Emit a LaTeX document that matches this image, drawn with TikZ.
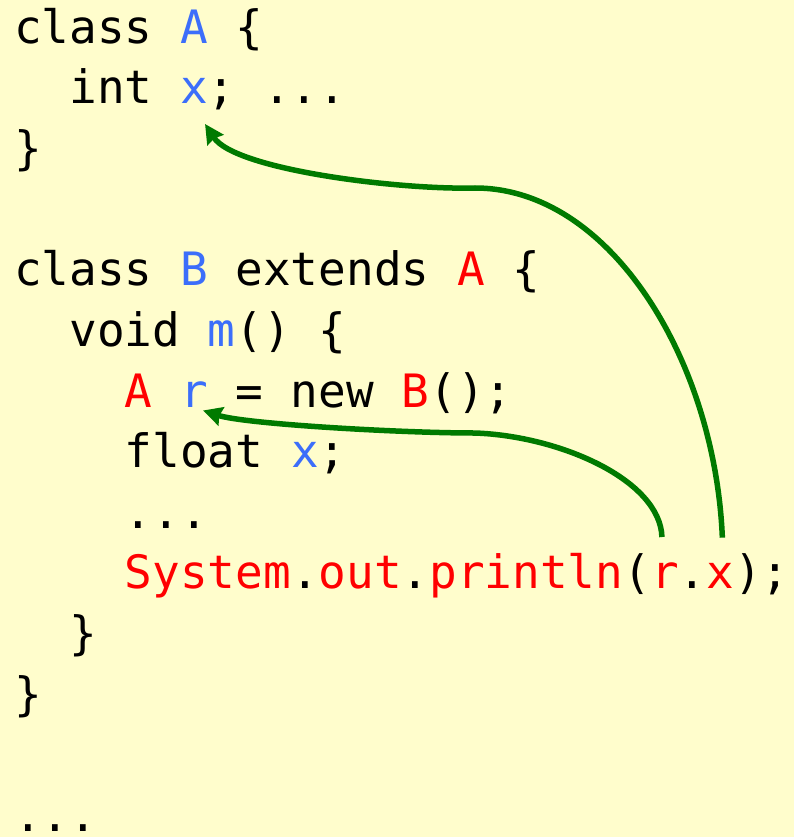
\documentclass[tikz,border=0pt]{standalone}
\usepackage{fontspec}
\newfontfamily\codefont{DejaVu Sans Mono}
\usetikzlibrary{arrows.meta}
\definecolor{codeblue}{RGB}{60,110,250}
\definecolor{codered}{RGB}{255,0,0}
\definecolor{codegreen}{RGB}{0,122,0}
\definecolor{bgyellow}{RGB}{255,253,204}
\newcommand\tk[5]{\node[tok,text=#4] (#1) at ({14+#2*27.7},{-43.4-(#3-1)*60.6}) {#5};}
\begin{document}
\begin{tikzpicture}[x=1pt,y=1pt,
  tok/.style={anchor=base west,inner sep=0pt,outer sep=0pt,font=\codefont\fontsize{46pt}{60pt}\selectfont},
  arr/.style={draw=codegreen,line width=5.5pt,-{Stealth[length=19pt,width=19pt,inset=2pt]}}]
\fill[bgyellow] (0,0) rectangle (794,-837);
\useasboundingbox (0,0) rectangle (794,-837);
% line 1
\tk{lA}{0}{1}{black}{class}
\tk{clA}{6}{1}{codeblue}{A}
\tk{lAb}{8}{1}{black}{\{}
% line 2
\tk{lint}{2}{2}{black}{int}
\tk{ax}{6}{2}{codeblue}{x}
\tk{lintb}{7}{2}{black}{; ...}
% line 3
\tk{lAc}{0}{3}{black}{\}}
% line 5
\tk{lB}{0}{5}{black}{class}
\tk{clB}{6}{5}{codeblue}{B}
\tk{lext}{8}{5}{black}{extends}
\tk{supA}{16}{5}{codered}{A}
\tk{lBb}{18}{5}{black}{\{}
% line 6
\tk{lvoid}{2}{6}{black}{void}
\tk{mm}{7}{6}{codeblue}{m}
\tk{lvoidb}{8}{6}{black}{() \{}
% line 7
\tk{tA}{4}{7}{codered}{A}
\tk{rdecl}{6}{7}{codeblue}{r}
\tk{lnew}{8}{7}{black}{= new}
\tk{tB}{14}{7}{codered}{B}
\tk{lnewb}{15}{7}{black}{();}
% line 8
\tk{lfloat}{4}{8}{black}{float}
\tk{fx}{10}{8}{codeblue}{x}
\tk{lfloatb}{11}{8}{black}{;}
% line 9
\tk{ldots}{4}{9}{black}{...}
% line 10
\tk{sys}{4}{10}{codered}{System}
\tk{d1}{10}{10}{black}{.}
\tk{out}{11}{10}{codered}{out}
\tk{d2}{14}{10}{black}{.}
\tk{prn}{15}{10}{codered}{println}
\tk{par}{22}{10}{black}{(}
\tk{rr}{23}{10}{codered}{r}
\tk{d3}{24}{10}{black}{.}
\tk{rx}{25}{10}{codered}{x}
\tk{pend}{26}{10}{black}{);}
% lines 11,12,14
\tk{lmc}{2}{11}{black}{\}}
\tk{lBc}{0}{12}{black}{\}}
\tk{lend}{0}{14}{black}{...}
% arrows
\draw[arr] ([shift={(2pt,26pt)}]rx.north) .. controls (715,-360) and (610,-188) .. (475,-188)
   .. controls (400,-190) and (235,-170) .. ([shift={(11pt,-20pt)}]ax.south);
\draw[arr] ([shift={(-3pt,26pt)}]rr.north) .. controls (660,-480) and (560,-436) .. (475,-433)
   .. controls (400,-433) and (245,-424) .. ([shift={(9pt,-3.5pt)}]rdecl.south);
\end{tikzpicture}
\end{document}
